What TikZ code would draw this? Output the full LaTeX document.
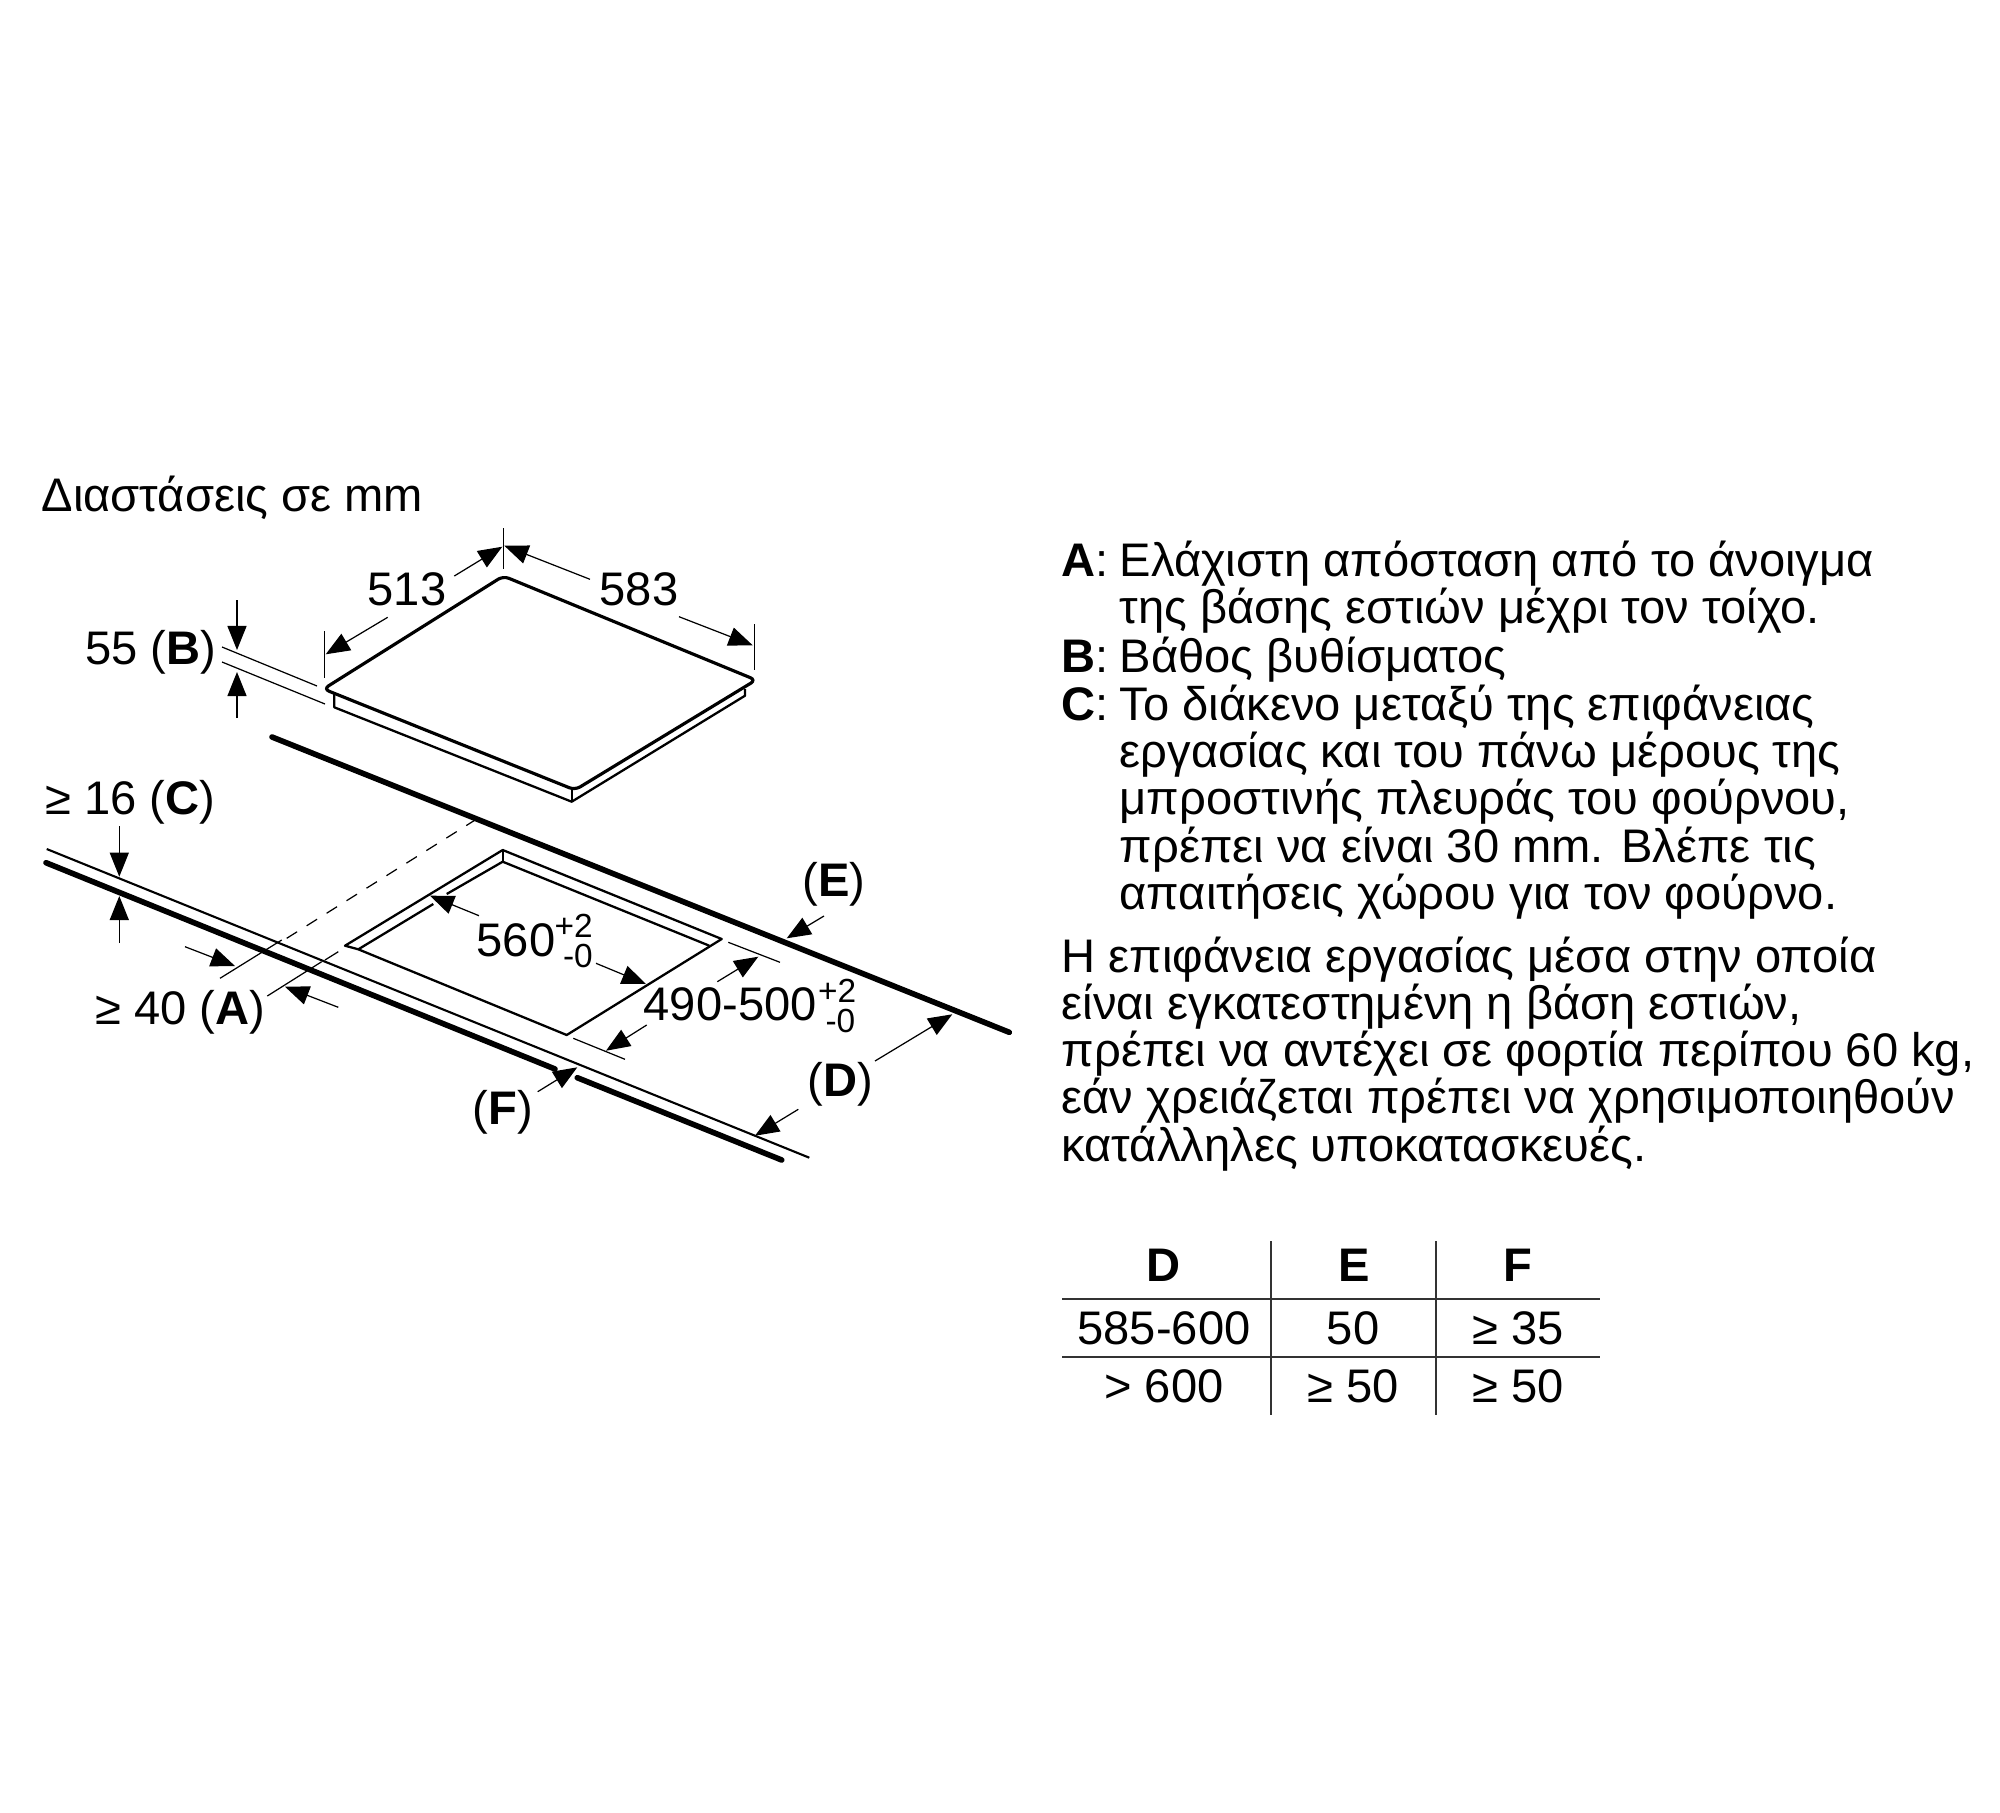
\documentclass[tikz,border=0pt]{standalone}
\usepackage{fontspec}
\setmainfont{Liberation Sans}
\usetikzlibrary{arrows.meta}
\tikzset{
    lbl/.style={inner sep=0pt, anchor=base, font=\fontsize{13.4}{15}\selectfont},
    lblw/.style={lbl, anchor=base west},
    lble/.style={lbl, anchor=base east},
    tol/.style={inner sep=0pt, anchor=base east, font=\fontsize{9.5}{11}\selectfont},
    dimline/.style={line width=0.35pt},
    dimarrow/.style={line width=0.35pt, -{Triangle[length=0.24cm, width=0.19cm]}},
    edge/.style={line width=1.6pt, line cap=round},
    rim/.style={line width=0.65pt, line join=round},
    rule/.style={line width=0.4pt, draw=black!80}
}
\begin{document}
\begin{tikzpicture}[x=0.01cm, y=-0.01cm]
    \useasboundingbox (0,0) rectangle (2000,1812);

    % Title
    \node[lblw] (title) at (41,511) {Διαστάσεις σε mm};

    % Hob
    \draw[line width=0.9pt, rounded corners=1.7pt] (503.3,576) -- (756,680) -- (575,790) -- (323.5,689) -- cycle;
    \draw[rim] (334.3,693.5) -- (334.3,707.3) -- (571.7,801.7) -- (745,695.7) -- (745,689);
    \draw[rim] (571.7,789.5) -- (571.7,801.7);

    % Hob dimensions
    \draw[dimline] (503.3,528) -- (503.3,569);
    \draw[dimline] (754.3,624) -- (754.3,670);
    \draw[dimline] (324.3,631) -- (324.3,678);
    \node[lbl] (wid) at (407,605.5) {513};
    \node[lbl] (dep) at (639,605.5) {583};
    \draw[dimarrow] (454.3,576) -- (502.3,546.7);
    \draw[dimarrow] (387.7,617.3) -- (325.7,654.3);
    \draw[dimarrow] (590,579.3) -- (504.3,545.7);
    \draw[dimarrow] (679,616.7) -- (752.7,645.3);

    % Depth B
    \node[lble] (dimB) at (217,664) {55 (\textbf{B})};
    \draw[dimline] (222,647) -- (317,686);
    \draw[dimline] (222,662) -- (325,704);
    \draw[dimarrow] (237,600) -- (237,650);
    \draw[dimarrow] (237,718) -- (237,672);

    % Worktop
    \draw[edge] (272,737) -- (1009.3,1032.3);
    \draw[edge] (46,862.7) -- (555,1069);
    \draw[edge] (577.3,1077.7) -- (781.7,1160);
    \draw[line width=0.6pt] (46.7,849) -- (809.3,1157.7);
    \draw[dimline, dash pattern=on 3.5pt off 3.2pt] (476.7,819) -- (286.7,938.3);

    % Gap C
    \node[lble] (dimC) at (216,814.5) {≥ 16 (\textbf{C})};
    \draw[dimarrow] (119.3,826) -- (119.3,876.7);
    \draw[dimarrow] (119.3,943) -- (119.3,896);

    % Distance A
    \node[lble] (dimA) at (266,1024.5) {≥ 40 (\textbf{A})};
    \draw[dimline] (220,978.3) -- (281.7,940);
    \draw[dimline] (267.3,996) -- (321.7,961.7);
    \draw[dimline] (325,960) -- (338.3,951.7);
    \draw[dimarrow] (185,946.7) -- (235,966);
    \draw[dimarrow] (338.3,1007.3) -- (285,986.7);

    % Cut-out
    \draw[rim] (358.3,949.3) -- (345,945.7) -- (502.7,850) -- (721.7,939) -- (566.7,1035) -- cycle;
    \draw[rim] (358.3,949.3) -- (433.3,904);
    \draw[rim] (446.7,894) -- (502.7,861.7) -- (709.3,945.7);
    \draw[rim] (502.7,850) -- (502.7,861.7);

    % Cut-out dimensions
    \node[lblw] (cutW) at (476,956) {560};
    \node[tol] (cutWp) at (593.5,937.5) {+2};
    \node[tol] (cutWm) at (593.5,967.5) {-0};
    \draw[dimarrow] (479,915.7) -- (430,895.7);
    \draw[dimarrow] (596,963.3) -- (646,984);
    \node[lblw] (cutD) at (643,1020) {490-500};
    \node[tol] (cutDp) at (857,1002) {+2};
    \node[tol] (cutDm) at (856,1032) {-0};
    \draw[dimline] (728.3,942.3) -- (780,962.3);
    \draw[dimline] (573.3,1038.3) -- (625,1059.3);
    \draw[dimarrow] (717.3,981.7) -- (758.3,956.7);
    \draw[dimarrow] (646.7,1025) -- (606,1050.7);

    % D, E, F
    \node[lbl] (dimE) at (834,896) {(\textbf{E})};
    \draw[dimarrow] (824,916) -- (786.7,938.3);
    \node[lbl] (dimD) at (840.5,1096) {(\textbf{D})};
    \draw[dimarrow] (875,1061) -- (952.3,1014.3);
    \draw[dimarrow] (798.3,1109.3) -- (755,1135.7);
    \node[lbl] (dimF) at (502.7,1124.3) {(\textbf{F})};
    \draw[dimarrow] (537.7,1091.7) -- (577.3,1067.3);

    % Notes
    \node[lblw] (noteA) at (1061,576) {\textbf{A}:};
    \node[lblw] (noteA1) at (1119,576) {Ελάχιστη απόσταση από το άνοιγμα};
    \node[lblw] (noteA2) at (1119,623.5) {της βάσης εστιών μέχρι τον τοίχο.};
    \node[lblw] (noteB) at (1061,672.5) {\textbf{B}:};
    \node[lblw] (noteB1) at (1119,672.5) {Βάθος βυθίσματος};
    \node[lblw] (noteC) at (1061,720) {\textbf{C}:};
    \node[lblw] (noteC1) at (1119,720) {Το διάκενο μεταξύ της επιφάνειας};
    \node[lblw] (noteC2) at (1119,767) {εργασίας και του πάνω μέρους της};
    \node[lblw] (noteC3) at (1119,814) {μπροστινής πλευράς του φούρνου,};
    \node[lblw] (noteC4) at (1119,862) {πρέπει να είναι 30 mm. Βλέπε τις};
    \node[lblw] (noteC5) at (1119,909) {απαιτήσεις χώρου για τον φούρνο.};
    \node[lblw] (load1) at (1061,972) {Η επιφάνεια εργασίας μέσα στην οποία};
    \node[lblw] (load2) at (1061,1019) {είναι εγκατεστημένη η βάση εστιών,};
    \node[lblw] (load3) at (1061,1066.5) {πρέπει να αντέχει σε φορτία περίπου 60 kg,};
    \node[lblw] (load4) at (1061,1113) {εάν χρειάζεται πρέπει να χρησιμοποιηθούν};
    \node[lblw] (load5) at (1061,1161) {κατάλληλες υποκατασκευές.};

    % Table
    \draw[rule] (1271,1241) -- (1271,1415);
    \draw[rule] (1436,1241) -- (1436,1415);
    \draw[rule] (1062,1299) -- (1600,1299);
    \draw[rule] (1062,1357) -- (1600,1357);
    \node[lbl] (headD) at (1164,1281) {\textbf{D}};
    \node[lbl] (headE) at (1354,1281) {\textbf{E}};
    \node[lbl] (headF) at (1518,1281) {\textbf{F}};
    \node[lbl] (rowAD) at (1164,1344) {585-600};
    \node[lbl] (rowAE) at (1353,1344) {50};
    \node[lbl] (rowAF) at (1518,1344) {≥ 35};
    \node[lbl] (rowBD) at (1164,1402) {> 600};
    \node[lbl] (rowBE) at (1353,1402) {≥ 50};
    \node[lbl] (rowBF) at (1518,1402) {≥ 50};
\end{tikzpicture}
\end{document}
